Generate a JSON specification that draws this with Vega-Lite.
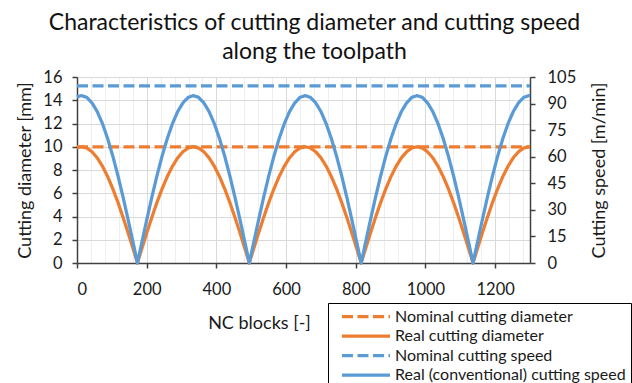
{
  "$schema": "https://vega.github.io/schema/vega-lite/v6.json",
  "autosize": {"type": "none"},
  "padding": {"left": 77, "top": 77, "right": 102, "bottom": 120},
  "width": 453,
  "height": 186,
  "background": "#ffffff",
  "title": {
    "text": ["Characteristics of cutting diameter and cutting speed", "along the toolpath"],
    "font": "Lato", "fontSize": 23, "fontWeight": "normal", "color": "#111111",
    "anchor": "middle", "frame": "group", "dx": 11, "offset": 5, "lineHeight": 29
  },
  "datasets": {
    "real": [
      {"x": 0, "Real cutting diameter": 9.93, "Real (conventional) cutting speed": 93.8},
      {"x": 13, "Real cutting diameter": 10, "Real (conventional) cutting speed": 94.5},
      {"x": 28, "Real cutting diameter": 9.89, "Real (conventional) cutting speed": 93.5},
      {"x": 43, "Real cutting diameter": 9.57, "Real (conventional) cutting speed": 90.4},
      {"x": 58, "Real cutting diameter": 9.05, "Real (conventional) cutting speed": 85.5},
      {"x": 73, "Real cutting diameter": 8.33, "Real (conventional) cutting speed": 78.7},
      {"x": 88, "Real cutting diameter": 7.43, "Real (conventional) cutting speed": 70.2},
      {"x": 103, "Real cutting diameter": 6.37, "Real (conventional) cutting speed": 60.2},
      {"x": 118, "Real cutting diameter": 5.17, "Real (conventional) cutting speed": 48.9},
      {"x": 133, "Real cutting diameter": 3.86, "Real (conventional) cutting speed": 36.5},
      {"x": 148, "Real cutting diameter": 2.47, "Real (conventional) cutting speed": 23.3},
      {"x": 163, "Real cutting diameter": 1.03, "Real (conventional) cutting speed": 9.7},
      {"x": 173.5, "Real cutting diameter": 0, "Real (conventional) cutting speed": 0},
      {"x": 184, "Real cutting diameter": 1.03, "Real (conventional) cutting speed": 9.7},
      {"x": 199, "Real cutting diameter": 2.47, "Real (conventional) cutting speed": 23.3},
      {"x": 214, "Real cutting diameter": 3.86, "Real (conventional) cutting speed": 36.5},
      {"x": 229, "Real cutting diameter": 5.17, "Real (conventional) cutting speed": 48.9},
      {"x": 244, "Real cutting diameter": 6.37, "Real (conventional) cutting speed": 60.2},
      {"x": 259, "Real cutting diameter": 7.43, "Real (conventional) cutting speed": 70.2},
      {"x": 274, "Real cutting diameter": 8.33, "Real (conventional) cutting speed": 78.7},
      {"x": 289, "Real cutting diameter": 9.05, "Real (conventional) cutting speed": 85.5},
      {"x": 304, "Real cutting diameter": 9.57, "Real (conventional) cutting speed": 90.4},
      {"x": 319, "Real cutting diameter": 9.89, "Real (conventional) cutting speed": 93.5},
      {"x": 334, "Real cutting diameter": 10, "Real (conventional) cutting speed": 94.5},
      {"x": 349, "Real cutting diameter": 9.89, "Real (conventional) cutting speed": 93.5},
      {"x": 364, "Real cutting diameter": 9.57, "Real (conventional) cutting speed": 90.4},
      {"x": 379, "Real cutting diameter": 9.05, "Real (conventional) cutting speed": 85.5},
      {"x": 394, "Real cutting diameter": 8.33, "Real (conventional) cutting speed": 78.7},
      {"x": 409, "Real cutting diameter": 7.43, "Real (conventional) cutting speed": 70.2},
      {"x": 424, "Real cutting diameter": 6.37, "Real (conventional) cutting speed": 60.2},
      {"x": 439, "Real cutting diameter": 5.17, "Real (conventional) cutting speed": 48.9},
      {"x": 454, "Real cutting diameter": 3.86, "Real (conventional) cutting speed": 36.5},
      {"x": 469, "Real cutting diameter": 2.47, "Real (conventional) cutting speed": 23.3},
      {"x": 484, "Real cutting diameter": 1.03, "Real (conventional) cutting speed": 9.7},
      {"x": 494.5, "Real cutting diameter": 0, "Real (conventional) cutting speed": 0},
      {"x": 505, "Real cutting diameter": 1.03, "Real (conventional) cutting speed": 9.7},
      {"x": 520, "Real cutting diameter": 2.47, "Real (conventional) cutting speed": 23.3},
      {"x": 535, "Real cutting diameter": 3.86, "Real (conventional) cutting speed": 36.5},
      {"x": 550, "Real cutting diameter": 5.17, "Real (conventional) cutting speed": 48.9},
      {"x": 565, "Real cutting diameter": 6.37, "Real (conventional) cutting speed": 60.2},
      {"x": 580, "Real cutting diameter": 7.43, "Real (conventional) cutting speed": 70.2},
      {"x": 595, "Real cutting diameter": 8.33, "Real (conventional) cutting speed": 78.7},
      {"x": 610, "Real cutting diameter": 9.05, "Real (conventional) cutting speed": 85.5},
      {"x": 625, "Real cutting diameter": 9.57, "Real (conventional) cutting speed": 90.4},
      {"x": 640, "Real cutting diameter": 9.89, "Real (conventional) cutting speed": 93.5},
      {"x": 655, "Real cutting diameter": 10, "Real (conventional) cutting speed": 94.5},
      {"x": 670, "Real cutting diameter": 9.89, "Real (conventional) cutting speed": 93.5},
      {"x": 685, "Real cutting diameter": 9.57, "Real (conventional) cutting speed": 90.4},
      {"x": 700, "Real cutting diameter": 9.05, "Real (conventional) cutting speed": 85.5},
      {"x": 715, "Real cutting diameter": 8.33, "Real (conventional) cutting speed": 78.7},
      {"x": 730, "Real cutting diameter": 7.43, "Real (conventional) cutting speed": 70.2},
      {"x": 745, "Real cutting diameter": 6.37, "Real (conventional) cutting speed": 60.2},
      {"x": 760, "Real cutting diameter": 5.17, "Real (conventional) cutting speed": 48.9},
      {"x": 775, "Real cutting diameter": 3.86, "Real (conventional) cutting speed": 36.5},
      {"x": 790, "Real cutting diameter": 2.47, "Real (conventional) cutting speed": 23.3},
      {"x": 805, "Real cutting diameter": 1.03, "Real (conventional) cutting speed": 9.7},
      {"x": 815.5, "Real cutting diameter": 0, "Real (conventional) cutting speed": 0},
      {"x": 826, "Real cutting diameter": 1.03, "Real (conventional) cutting speed": 9.7},
      {"x": 841, "Real cutting diameter": 2.47, "Real (conventional) cutting speed": 23.3},
      {"x": 856, "Real cutting diameter": 3.86, "Real (conventional) cutting speed": 36.5},
      {"x": 871, "Real cutting diameter": 5.17, "Real (conventional) cutting speed": 48.9},
      {"x": 886, "Real cutting diameter": 6.37, "Real (conventional) cutting speed": 60.2},
      {"x": 901, "Real cutting diameter": 7.43, "Real (conventional) cutting speed": 70.2},
      {"x": 916, "Real cutting diameter": 8.33, "Real (conventional) cutting speed": 78.7},
      {"x": 931, "Real cutting diameter": 9.05, "Real (conventional) cutting speed": 85.5},
      {"x": 946, "Real cutting diameter": 9.57, "Real (conventional) cutting speed": 90.4},
      {"x": 961, "Real cutting diameter": 9.89, "Real (conventional) cutting speed": 93.5},
      {"x": 976, "Real cutting diameter": 10, "Real (conventional) cutting speed": 94.5},
      {"x": 991, "Real cutting diameter": 9.89, "Real (conventional) cutting speed": 93.5},
      {"x": 1006, "Real cutting diameter": 9.57, "Real (conventional) cutting speed": 90.4},
      {"x": 1021, "Real cutting diameter": 9.05, "Real (conventional) cutting speed": 85.5},
      {"x": 1036, "Real cutting diameter": 8.33, "Real (conventional) cutting speed": 78.7},
      {"x": 1051, "Real cutting diameter": 7.43, "Real (conventional) cutting speed": 70.2},
      {"x": 1066, "Real cutting diameter": 6.37, "Real (conventional) cutting speed": 60.2},
      {"x": 1081, "Real cutting diameter": 5.17, "Real (conventional) cutting speed": 48.9},
      {"x": 1096, "Real cutting diameter": 3.86, "Real (conventional) cutting speed": 36.5},
      {"x": 1111, "Real cutting diameter": 2.47, "Real (conventional) cutting speed": 23.3},
      {"x": 1126, "Real cutting diameter": 1.03, "Real (conventional) cutting speed": 9.7},
      {"x": 1136.5, "Real cutting diameter": 0, "Real (conventional) cutting speed": 0},
      {"x": 1147, "Real cutting diameter": 1.03, "Real (conventional) cutting speed": 9.7},
      {"x": 1162, "Real cutting diameter": 2.47, "Real (conventional) cutting speed": 23.3},
      {"x": 1177, "Real cutting diameter": 3.86, "Real (conventional) cutting speed": 36.5},
      {"x": 1192, "Real cutting diameter": 5.17, "Real (conventional) cutting speed": 48.9},
      {"x": 1207, "Real cutting diameter": 6.37, "Real (conventional) cutting speed": 60.2},
      {"x": 1222, "Real cutting diameter": 7.43, "Real (conventional) cutting speed": 70.2},
      {"x": 1237, "Real cutting diameter": 8.33, "Real (conventional) cutting speed": 78.7},
      {"x": 1252, "Real cutting diameter": 9.05, "Real (conventional) cutting speed": 85.5},
      {"x": 1267, "Real cutting diameter": 9.57, "Real (conventional) cutting speed": 90.4},
      {"x": 1282, "Real cutting diameter": 9.89, "Real (conventional) cutting speed": 93.5},
      {"x": 1297, "Real cutting diameter": 10, "Real (conventional) cutting speed": 94.5},
      {"x": 1300, "Real cutting diameter": 9.99, "Real (conventional) cutting speed": 94.4}
    ],
    "nominal": [
      {"x": 0, "Nominal cutting diameter": 10, "Nominal cutting speed": 100},
      {"x": 1300, "Nominal cutting diameter": 10, "Nominal cutting speed": 100}
    ]
  },
  "encoding": {
    "x": {
      "field": "x", "type": "quantitative",
      "scale": {"domain": [0, 1300], "nice": false, "zero": false},
      "axis": {
        "title": "NC blocks [-]",
        "values": [0, 40, 80, 120, 160, 200, 240, 280, 320, 360, 400, 440, 480, 520, 560, 600, 640, 680, 720, 760, 800, 840, 880, 920, 960, 1000, 1040, 1080, 1120, 1160, 1200, 1240, 1280],
        "format": "d",
        "labelExpr": "datum.value % 200 === 0 ? datum.label : ''",
        "tickOpacity": {"condition": {"test": "datum.value % 200 === 0", "value": 1}, "value": 0},
        "gridColor": {"condition": {"test": "datum.value % 200 === 0", "value": "#d9d9d9"}, "value": "#eeeeee"},
        "grid": true,
        "gridWidth": 1,
        "tickSize": 5,
        "labelPadding": 13,
        "titleX": 182, "titleY": 60, "titleAlign": "center", "titleBaseline": "middle"
      }
    },
    "color": {
      "field": "s", "type": "nominal",
      "scale": {
        "domain": ["Nominal cutting diameter", "Real cutting diameter", "Nominal cutting speed", "Real (conventional) cutting speed"],
        "range": ["#ED7D31", "#ED7D31", "#5B9BD5", "#5B9BD5"]
      },
      "legend": {"title": null}
    },
    "strokeDash": {
      "field": "s", "type": "nominal",
      "scale": {
        "domain": ["Nominal cutting diameter", "Real cutting diameter", "Nominal cutting speed", "Real (conventional) cutting speed"],
        "range": [[11, 4.5], [1, 0], [11, 4.5], [1, 0]]
      },
      "legend": {"title": null}
    }
  },
  "layer": [
    {
      "encoding": {
        "y": {
          "field": "y", "type": "quantitative",
          "scale": {"domain": [0, 16], "nice": false},
          "axis": {
            "title": "Cutting diameter [mm]", "orient": "left",
            "values": [0, 2, 4, 6, 8, 10, 12, 14, 16],
            "grid": true, "gridColor": "#d9d9d9",
            "tickSize": 5, "labelPadding": 10,
            "titleX": -52, "titleY": 93, "titleAlign": "center", "titleBaseline": "middle"
          }
        }
      },
      "layer": [
        {
          "data": {"name": "nominal"},
          "transform": [{"fold": ["Nominal cutting diameter"], "as": ["s", "y"]}],
          "mark": {"type": "line", "strokeWidth": 3.25, "strokeCap": "butt"}
        },
        {
          "data": {"name": "real"},
          "transform": [{"fold": ["Real cutting diameter"], "as": ["s", "y"]}],
          "mark": {"type": "line", "strokeWidth": 3.25, "strokeJoin": "round"}
        }
      ]
    },
    {
      "encoding": {
        "y": {
          "field": "y", "type": "quantitative",
          "scale": {"domain": [0, 105], "nice": false},
          "axis": {
            "title": "Cutting speed [m/min]", "orient": "right",
            "values": [0, 15, 30, 45, 60, 75, 90, 105],
            "grid": false,
            "tickSize": 5, "labelPadding": 12,
            "titleAngle": 270,
            "titleX": 69, "titleY": 93, "titleAlign": "center", "titleBaseline": "middle"
          }
        }
      },
      "layer": [
        {
          "data": {"name": "nominal"},
          "transform": [{"fold": ["Nominal cutting speed"], "as": ["s", "y"]}],
          "mark": {"type": "line", "strokeWidth": 3.25, "strokeCap": "butt"}
        },
        {
          "data": {"name": "real"},
          "transform": [{"fold": ["Real (conventional) cutting speed"], "as": ["s", "y"]}],
          "mark": {"type": "line", "strokeWidth": 3.25, "strokeJoin": "round"}
        }
      ]
    }
  ],
  "resolve": {"scale": {"y": "independent"}},
  "config": {
    "view": {"stroke": null},
    "axis": {
      "labelFont": "Lato", "labelFontSize": 16.5, "labelColor": "#1a1a1a",
      "titleFont": "Lato", "titleFontSize": 18, "titleFontWeight": "normal", "titleColor": "#1a1a1a",
      "domainColor": "#404040", "domainWidth": 1.5, "tickColor": "#404040", "tickWidth": 1.5
    },
    "legend": {
      "orient": "none", "legendX": 251, "legendY": 226,
      "strokeColor": "#000000", "fillColor": "#ffffff", "padding": 5,
      "symbolType": "stroke", "symbolSize": 2304, "symbolStrokeWidth": 3.25,
      "symbolOffset": 7, "clipHeight": 17,
      "labelFont": "Lato", "labelFontSize": 16, "labelColor": "#1a1a1a", "labelLimit": 400,
      "labelOffset": 3, "rowPadding": 2.5
    }
  }
}
